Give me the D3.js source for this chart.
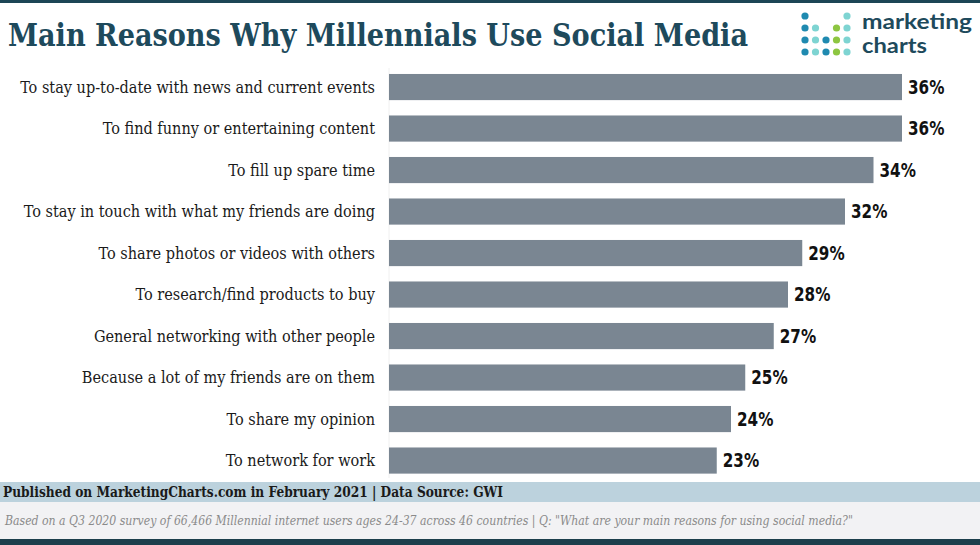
<!DOCTYPE html>
<html><head><meta charset="utf-8">
<script src="https://cdn.jsdelivr.net/npm/d3@7"></script>
<style>html,body{margin:0;padding:0;background:#fff;}svg{display:block;}</style>
</head><body>
<script>
const categories = [
  "To stay up-to-date with news and current events",
  "To find funny or entertaining content",
  "To fill up spare time",
  "To stay in touch with what my friends are doing",
  "To share photos or videos with others",
  "To research/find products to buy",
  "General networking with other people",
  "Because a lot of my friends are on them",
  "To share my opinion",
  "To network for work"
];
const values = [36, 36, 34, 32, 29, 28, 27, 25, 24, 23];
const title = "Main Reasons Why Millennials Use Social Media";
const footerSource = "Published on MarketingCharts.com in February 2021 | Data Source: GWI";
const footerNote = "Based on a Q3 2020 survey of 66,466 Millennial internet users ages 24-37 across 46 countries | Q: \"What are your main reasons for using social media?\"";
const logoWords = ["marketing", "charts"];

const W = 980, H = 545;
const svg = d3.select("body").append("svg").attr("width", W).attr("height", H);

// top border
svg.append("rect").attr("x", 0).attr("y", 0).attr("width", W).attr("height", 3).attr("fill", "#1d4656");

// title
svg.append("text").attr("x", 8).attr("y", 46)
  .attr("font-family", "'DejaVu Serif Condensed','DejaVu Serif',serif")
  .attr("font-weight", "bold").attr("font-size", 31)
  .attr("fill", "#1e4a5c")
  .attr("textLength", 740).attr("lengthAdjust", "spacingAndGlyphs")
  .text(title);

// logo
const dotCols = [805, 815.5, 826, 836.5, 847];
const dotRows = [16, 28, 40, 52];
const B = "#1f8ab0", T = "#7ed4d2", G = "#8dc641";
const dotPattern = [
  [B, null, null, null, T],
  [B, T, null, G, T],
  [B, T, B, G, T],
  [B, T, B, G, T]
];
const logo = svg.append("g");
dotPattern.forEach((row, r) => row.forEach((c, i) => {
  if (c) logo.append("circle").attr("cx", dotCols[i]).attr("cy", dotRows[r]).attr("r", 3.6).attr("fill", c);
}));
logo.selectAll("text.lw").data(logoWords).join("text").attr("class", "lw")
  .attr("x", 862).attr("y", (d, i) => 29 + i * 24)
  .attr("font-family", "Lato,'Open Sans',sans-serif")
  .attr("font-weight", "bold").attr("font-size", 20)
  .attr("fill", "#1e4a5c")
  .attr("textLength", (d, i) => i === 0 ? 110 : 65).attr("lengthAdjust", "spacingAndGlyphs")
  .text(d => d);

// scales
const x = d3.scaleLinear().domain([0, 36]).range([389, 902]);
const y = d3.scaleBand().domain(categories).range([66.3, 481.3]).paddingInner(0.37).paddingOuter(0.185);

// faint axis line
svg.append("line").attr("x1", 389).attr("x2", 389).attr("y1", 68).attr("y2", 478)
  .attr("stroke", "#f0f0f0").attr("stroke-width", 1);

// bars
svg.selectAll("rect.bar").data(values).join("rect").attr("class", "bar")
  .attr("x", x(0)).attr("y", (d, i) => y(categories[i]))
  .attr("width", d => x(d) - x(0)).attr("height", y.bandwidth())
  .attr("fill", "#7a8692");

// category labels
const labels = svg.selectAll("text.cat").data(categories).join("text").attr("class", "cat")
  .attr("x", 375).attr("y", d => y(d) + y.bandwidth() / 2).attr("dy", "0.35em")
  .attr("text-anchor", "end")
  .attr("font-family", "'DejaVu Serif Condensed','DejaVu Serif',serif")
  .attr("font-size", 15).attr("fill", "#1a1a1a")
  .text(d => d);
let maxW = 0;
labels.each(function () { maxW = Math.max(maxW, this.getComputedTextLength()); });
if (maxW > 0) labels.attr("font-size", 15 * 355 / maxW);

// value labels (condensed look via horizontal scale)
svg.selectAll("g.val").data(values).join("g").attr("class", "val")
  .attr("transform", (d, i) => `translate(${x(d) + 6},${y(categories[i]) + y.bandwidth() / 2}) scale(0.8,1)`)
  .append("text").attr("dy", "0.36em")
  .attr("font-family", "'DejaVu Sans','Liberation Sans',sans-serif")
  .attr("font-weight", "bold").attr("font-size", 19).attr("fill", "#111")
  .text(d => d + "%");

// footer
svg.append("rect").attr("x", 0).attr("y", 482).attr("width", W).attr("height", 20).attr("fill", "#bcd2dd");
svg.append("rect").attr("x", 0).attr("y", 502).attr("width", W).attr("height", 37).attr("fill", "#f2f2f4");
svg.append("rect").attr("x", 0).attr("y", 539).attr("width", W).attr("height", 6).attr("fill", "#1d3f4c");
svg.append("text").attr("x", 3).attr("y", 497)
  .attr("font-family", "'DejaVu Serif Condensed','DejaVu Serif',serif")
  .attr("font-weight", "bold").attr("font-size", 14).attr("fill", "#1a1a1a")
  .attr("textLength", 500).attr("lengthAdjust", "spacingAndGlyphs")
  .text(footerSource);
svg.append("text").attr("x", 5).attr("y", 525)
  .attr("font-family", "'DejaVu Serif Condensed','DejaVu Serif',serif")
  .attr("font-style", "italic").attr("font-size", 12).attr("fill", "#8a8a8a")
  .attr("textLength", 848).attr("lengthAdjust", "spacingAndGlyphs")
  .text(footerNote);
</script>
</body></html>
